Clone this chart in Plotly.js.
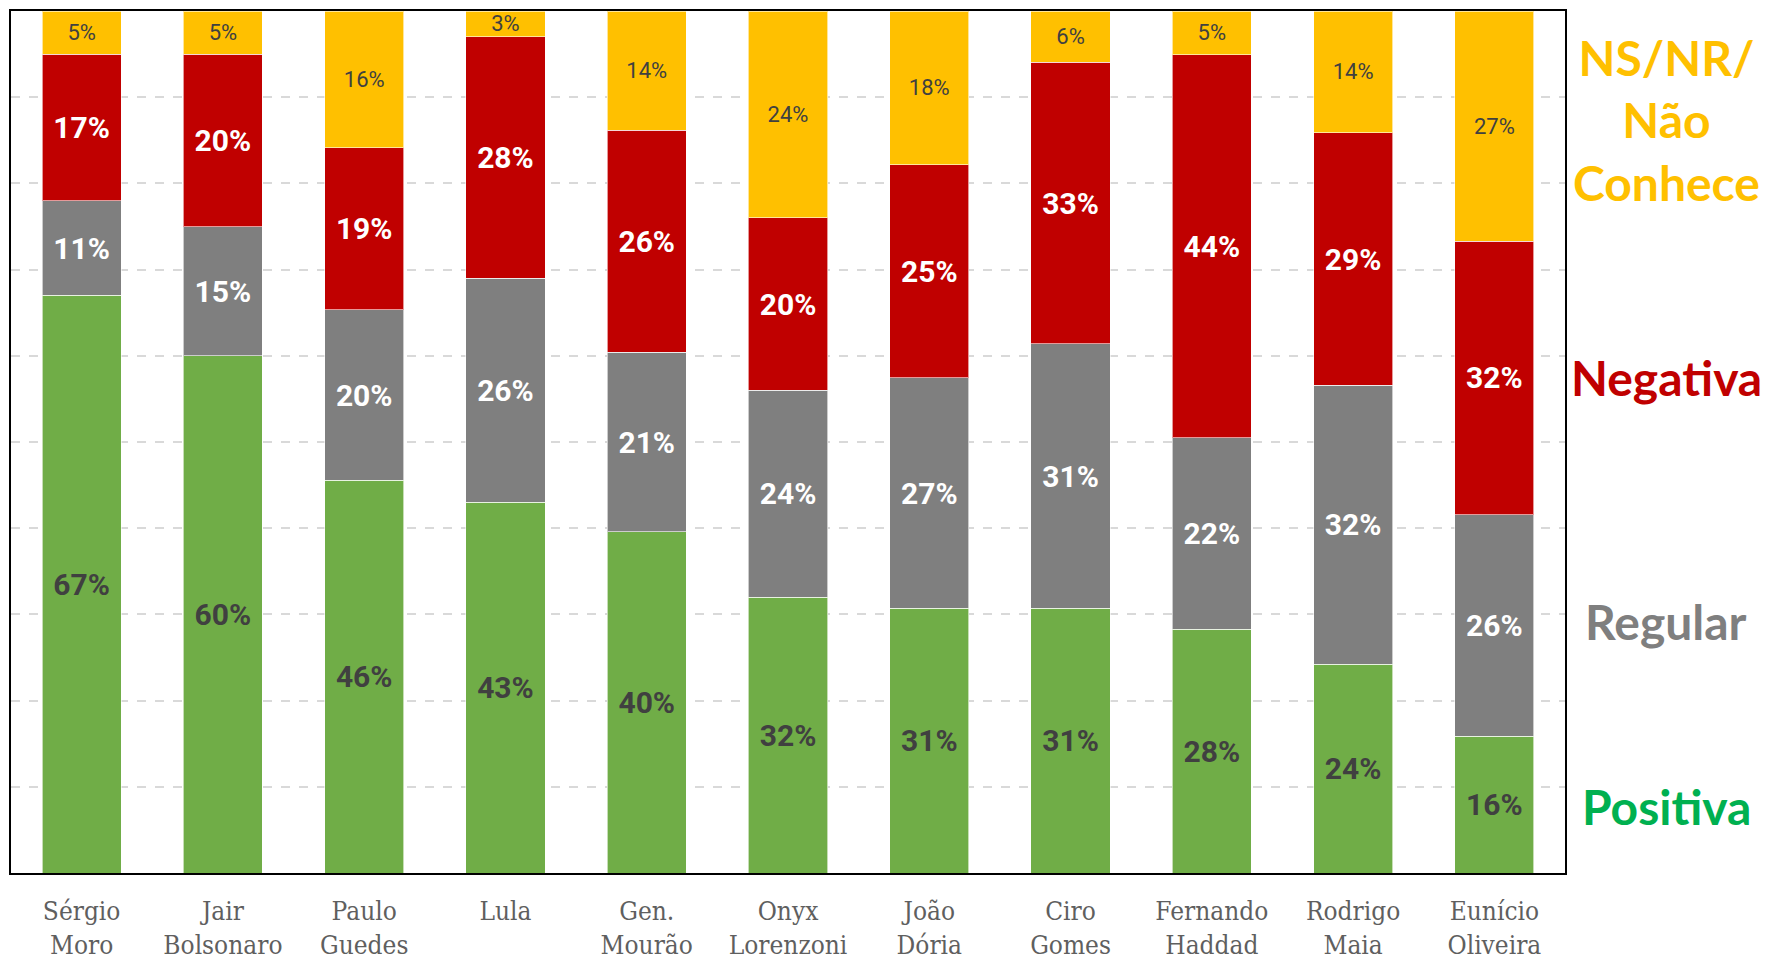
<!DOCTYPE html>
<html>
<head>
<meta charset="utf-8">
<script src="https://cdn.plot.ly/plotly-3.0.1.min.js"></script>
<style>html,body{margin:0;padding:0;background:#fff;}#chart{width:1765px;height:964px;}</style>
</head>
<body>
<div id="chart"></div>
<script>
const categories = ["Sérgio<br>Moro","Jair<br>Bolsonaro","Paulo<br>Guedes","Lula","Gen.<br>Mourão","Onyx<br>Lorenzoni","João<br>Dória","Ciro<br>Gomes","Fernando<br>Haddad","Rodrigo<br>Maia","Eunício<br>Oliveira"];
const positiva = [67,60,46,43,40,32,31,31,28,24,16];
const regular  = [11,15,20,26,21,24,27,31,22,32,26];
const negativa = [17,20,19,28,26,20,25,33,44,29,32];
const nsnr     = [5,5,16,3,14,24,18,6,5,14,27];
const seriesNames = ["Positiva","Regular","Negativa","NS/NR/<br>Não<br>Conhece"];

const pct = a => a.map(v => v + "%");
function mk(vals, name, color, txtColor, size, bold) {
  return {
    type: "bar", x: categories, y: vals, name: name,
    marker: {color: color, line: {color: "rgba(255,255,255,0.6)", width: 1}},
    text: pct(vals), textposition: "inside", insidetextanchor: "middle",
    constraintext: "none", textangle: 0,
    textfont: {family: "Roboto, sans-serif", size: size, color: txtColor, weight: bold ? 700 : 400},
    hoverinfo: "skip"
  };
}
const data = [
  mk(positiva, seriesNames[0], "#70AD47", "#404040", 30, true),
  mk(regular,  seriesNames[1], "#7F7F7F", "#FFFFFF", 30, true),
  mk(negativa, seriesNames[2], "#C00000", "#FFFFFF", 30, true),
  mk(nsnr,     seriesNames[3], "#FFC000", "#404040", 22, false)
];
const legendColors = ["#00B050","#7F7F7F","#C00000","#FFC000"];
const legendY = [0.077, 0.292, 0.575, 0.8736];
const annotations = seriesNames.map((n,i) => ({
  xref: "paper", yref: "paper", x: 1.065, y: legendY[i], xanchor: "center", yanchor: "middle",
  text: n, showarrow: false, align: "center",
  font: {family: "Lato, sans-serif", size: 48, color: legendColors[i], weight: 700}
}));
const layout = {
  width: 1765, height: 964,
  margin: {l: 11, r: 200, t: 11, b: 91},
  paper_bgcolor: "#fff", plot_bgcolor: "#fff",
  barmode: "stack", barnorm: "percent", bargap: 0.44,
  showlegend: false,
  xaxis: {
    showline: true, mirror: true, linecolor: "#000", linewidth: 2,
    ticks: "", ticklabelstandoff: 14,
    tickfont: {family: "DejaVu Serif Condensed, DejaVu Serif, serif", size: 26, color: "#5f5f5f"},
    fixedrange: true
  },
  yaxis: {
    range: [0, 100], dtick: 10, showticklabels: false,
    showgrid: true, gridcolor: "#D9D9D9", griddash: "dash", gridwidth: 2,
    zeroline: false, showline: true, mirror: true, linecolor: "#000", linewidth: 2,
    fixedrange: true
  },
  annotations: annotations,
  hovermode: false
};
Plotly.newPlot("chart", data, layout, {staticPlot: true, displayModeBar: false});
</script>
</body>
</html>
